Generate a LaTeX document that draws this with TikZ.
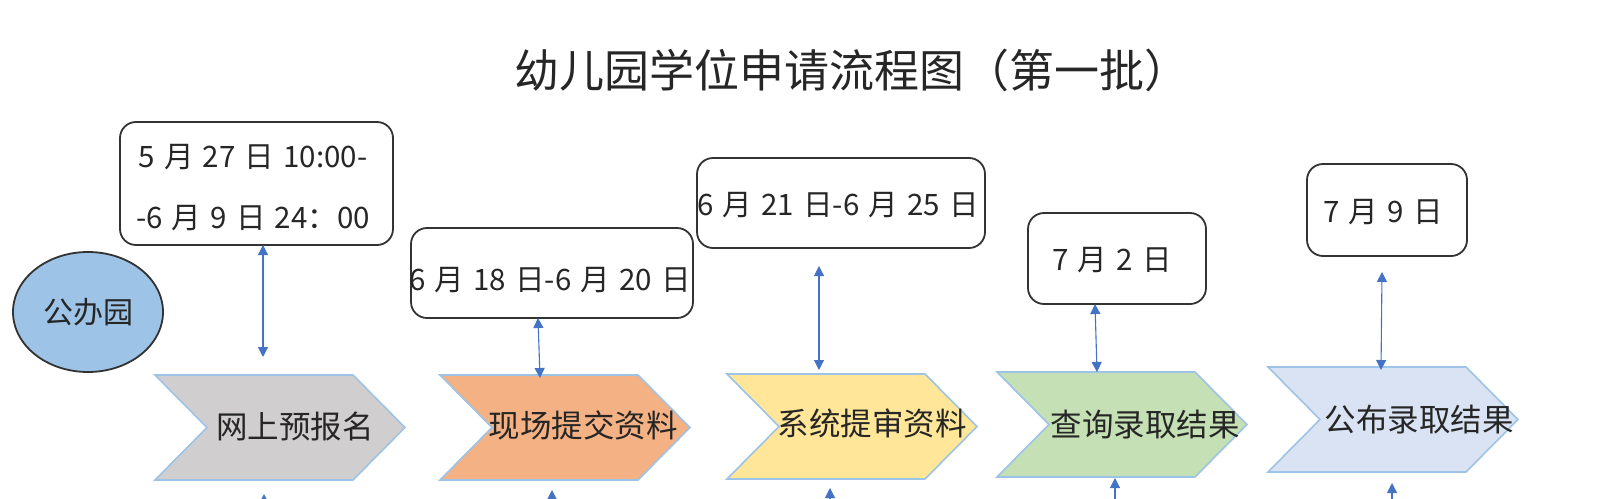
\documentclass[tikz,border=0pt]{standalone}
\usepackage{fontspec}
\setmainfont{Noto Sans CJK SC}
\newfontfamily\datefont[WordSpace=1.4]{Noto Sans CJK SC}
\usetikzlibrary{arrows.meta,shapes.geometric}
\definecolor{linkblue}{HTML}{4472C4}
\definecolor{chevedge}{HTML}{9DC3E6}
\definecolor{ellfill}{HTML}{9DC3E6}
\definecolor{cgray}{HTML}{D0CECE}
\definecolor{corange}{HTML}{F4B183}
\definecolor{cyellow}{HTML}{FFE699}
\definecolor{cgreen}{HTML}{C5E0B4}
\definecolor{cblue}{HTML}{DAE3F3}
\definecolor{boxedge}{HTML}{333333}
\tikzset{
  datebox/.style={draw=boxedge, line width=1.8pt, fill=white, rounded corners=16pt, inner sep=0pt},
  datetxt/.style={font=\datefont\fontsize{29.5}{61}\selectfont, inner sep=0pt, align=center, text=black!85},
  chevtxt/.style={font=\fontsize{31.5}{36}\selectfont, inner sep=0pt, text=black!85},
  chevline/.style={draw=chevedge, line width=1.6pt},
  link/.style={draw=linkblue, line width=1.1pt, {Triangle[length=10pt,width=10pt]}-{Triangle[length=10pt,width=10pt]}},
  linkup/.style={draw=linkblue, line width=1.1pt, -{Triangle[length=10pt,width=10pt]}},
}
\newcommand{\mychev}[3]{%
  \filldraw[chevline, fill=#3] (#1,#2) -- ++(198,0) -- ++(52,52.5) -- ++(-52,52.5) -- ++(-198,0) -- ++(52,-52.5) -- cycle;}
\begin{document}
\begin{tikzpicture}[x=1pt,y=-1pt]
\useasboundingbox (0,0) rectangle (1605,498);
\clip (0,0) rectangle (1605,498);
\fill[white] (0,0) rectangle (1605,498);

% title
\node[font=\fontsize{45}{52}\selectfont, inner sep=0pt, text=black!85] (title) at (852,70) {幼儿园学位申请流程图（第一批）};

% ellipse
\node[ellipse, draw=boxedge, line width=1.8pt, fill=ellfill, minimum width=150pt, minimum height=120pt, inner sep=0pt,
      font=\fontsize{30}{36}\selectfont, text=black!85] (e) at (88,312) {公办园};

% chevrons
\mychev{155}{375}{cgray}
\mychev{440}{375}{corange}
\mychev{727}{374}{cyellow}
\mychev{997}{372}{cgreen}
\mychev{1268}{367}{cblue}
\node[chevtxt] (c1) at (295,427) {网上预报名};
\node[chevtxt] (c2) at (583,425) {现场提交资料};
\node[chevtxt] (c3) at (872,423) {系统提审资料};
\node[chevtxt] (c4) at (1145,425) {查询录取结果};
\node[chevtxt] (c5) at (1419,420) {公布录取结果};

% date boxes
\node[datebox, minimum width=273pt, minimum height=123pt] (b1) at (256.5,183.5) {};
\node[datebox, minimum width=282pt, minimum height=90pt] (b2) at (552,273) {};
\node[datebox, minimum width=288pt, minimum height=90pt] (b3) at (841,203) {};
\node[datebox, minimum width=178pt, minimum height=91pt] (b4) at (1117,258.5) {};
\node[datebox, minimum width=160pt, minimum height=92pt] (b5) at (1387,210) {};
\node[datetxt] (b1t) at (253,187.5) {5 月 27 日 10:00-\\-6 月 9 日 24：00};
\node[datetxt] (b2t) at (550,280) {6 月 18 日-6 月 20 日};
\node[datetxt] (b3t) at (838,205) {6 月 21 日-6 月 25 日};
\node[datetxt] (b4t) at (1112,260) {7 月 2 日};
\node[datetxt] (b5t) at (1383,212) {7 月 9 日};

% arrow end points
\coordinate (t1) at (263,245);  \coordinate (u1) at (263,357);
\coordinate (t2) at (538,318);  \coordinate (u2) at (540,378);
\coordinate (t3) at (819,266);  \coordinate (u3) at (819,370);
\coordinate (t4) at (1095,304); \coordinate (u4) at (1097,372);
\coordinate (t5) at (1382,272); \coordinate (u5) at (1381,370);
\draw[link] (t1) -- (u1);
\draw[link] (t2) -- (u2);
\draw[link] (t3) -- (u3);
\draw[link] (t4) -- (u4);
\draw[link] (t5) -- (u5);

% arrows below chevrons (cut by the edge)
\coordinate (d1) at (264,520);  \coordinate (v1) at (264,494);
\coordinate (d2) at (552,520);  \coordinate (v2) at (552,490);
\coordinate (d3) at (830,520);  \coordinate (v3) at (830,488);
\coordinate (d4) at (1115,520); \coordinate (v4) at (1115,478);
\coordinate (d5) at (1392,520); \coordinate (v5) at (1392,483);
\draw[linkup] (d1) -- (v1);
\draw[linkup] (d2) -- (v2);
\draw[linkup] (d3) -- (v3);
\draw[linkup] (d4) -- (v4);
\draw[linkup] (d5) -- (v5);
\end{tikzpicture}
\end{document}
